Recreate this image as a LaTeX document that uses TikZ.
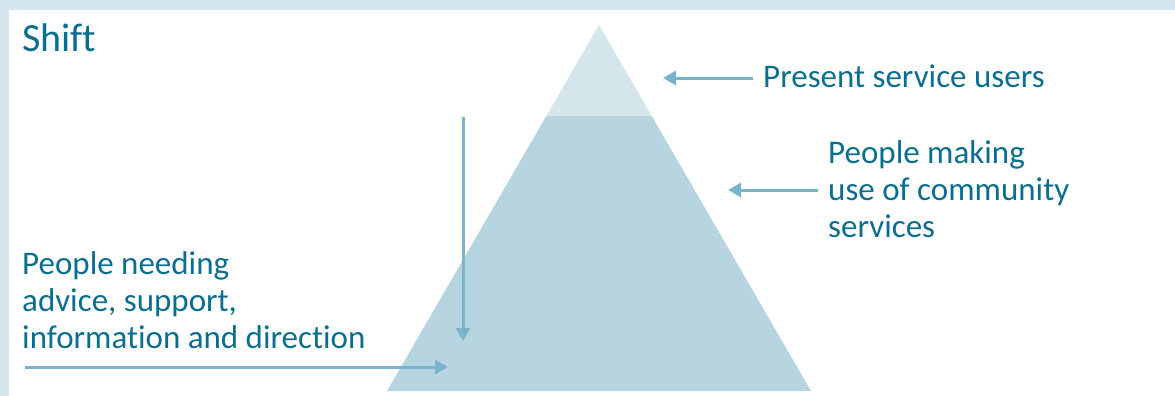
\documentclass[tikz,border=0pt]{standalone}
\usepackage{fontspec}
\setmainfont{Carlito}[Ligatures=NoCommon]
\usepackage{tikz}
\usetikzlibrary{arrows.meta, positioning, calc}
\definecolor{frameblue}{RGB}{214,230,238}
\definecolor{capblue}{RGB}{214,230,237}
\definecolor{bodyblue}{RGB}{182,213,225}
\definecolor{arrowblue}{RGB}{122,180,203}
\definecolor{textblue}{RGB}{12,110,142}

\begin{document}
\begin{tikzpicture}[
        x=1pt, y=-1pt,
        caption/.style={text=textblue, font=\fontsize{33}{37}\selectfont, align=left, inner sep=0pt, anchor=base west},
        shiftarrow/.style={arrowblue, line width=3pt, -{Triangle[length=13pt, width=14pt]}}
    ]
    \useasboundingbox (0,0) rectangle (1175,396);

    % --- Frame ---
    \fill[frameblue] (0,0) rectangle (1175,10);
    \fill[frameblue] (0,0) rectangle (9,396);

    % --- Pyramid ---
    \coordinate (apex) at (599,25);
    \coordinate (baseL) at (387,391);
    \coordinate (baseR) at (811,391);
    \coordinate (capL) at ($(apex)!0.249!(baseL)$);
    \coordinate (capR) at ($(apex)!0.249!(baseR)$);
    \fill[bodyblue] (capL) -- (capR) -- (baseR) -- (baseL) -- cycle;
    \fill[capblue] (apex) -- (capR) -- (capL) -- cycle;

    % --- Nodes (base = last line) ---
    \node[caption, font=\fontsize{40}{44}\selectfont] (title) at (22,52) {Shift};
    \node[caption] (present) at (763,88) {Present service users};
    \node[caption] (community) at (828,237) {People making\\use of community\\services};
    \node[caption] (needing) at (22,348) {People needing\\advice, support,\\information and direction};

    % --- Arrows ---
    \coordinate (presentTip) at (663,78);
    \coordinate (communityTip) at (728,190);
    \coordinate (downTop) at (463,117);
    \coordinate (downTip) at (463,341);
    \coordinate (inStart) at (25,367);
    \coordinate (inTip) at (448,367);
    \draw[shiftarrow] ([xshift=-10pt]present.west |- presentTip) -- (presentTip);
    \draw[shiftarrow] ([xshift=-10pt]community.west |- communityTip) -- (communityTip);
    \draw[shiftarrow] (downTop) -- (downTip);
    \draw[shiftarrow] (inStart) -- (inTip);
\end{tikzpicture}
\end{document}
